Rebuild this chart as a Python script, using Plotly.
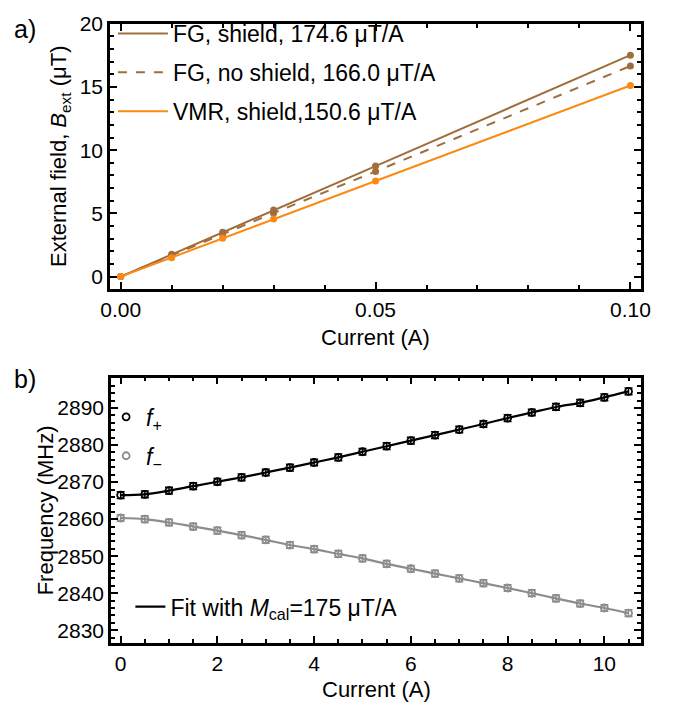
import plotly.graph_objects as go

# ---------------- data ----------------
# panel a
current_a = [0.0, 0.01, 0.02, 0.03, 0.05, 0.10]
fg_shield = [0.0, 1.76, 3.50, 5.26, 8.74, 17.52]
fg_noshield = [0.0, 1.68, 3.36, 5.03, 8.32, 16.66]
vmr_shield = [0.0, 1.50, 3.04, 4.55, 7.56, 15.12]
labels_a = ["FG, shield, 174.6 μT/A", "FG, no shield, 166.0 μT/A", "VMR, shield,150.6 μT/A"]

# panel b
current_b = [0.0, 0.5, 1.0, 1.5, 2.0, 2.5, 3.0, 3.5, 4.0, 4.5, 5.0,
             5.5, 6.0, 6.5, 7.0, 7.5, 8.0, 8.5, 9.0, 9.5, 10.0, 10.5]
f_plus = [2866.5, 2866.7, 2867.7, 2868.9, 2870.1, 2871.3, 2872.6, 2873.9, 2875.3, 2876.7, 2878.2,
          2879.7, 2881.2, 2882.7, 2884.2, 2885.7, 2887.3, 2888.8, 2890.3, 2891.4, 2892.9, 2894.5]
f_minus = [2860.3, 2860.0, 2859.1, 2858.0, 2856.9, 2855.7, 2854.4, 2853.0, 2851.9, 2850.6, 2849.4,
           2847.9, 2846.6, 2845.3, 2844.0, 2842.7, 2841.4, 2840.0, 2838.6, 2837.2, 2836.0, 2834.6]
err_plus = [0.9] * len(current_b)
err_minus = [0.9] * len(current_b)

BROWN = "rgb(160,110,60)"
ORANGE = "rgb(252,138,18)"
GRAY = "rgb(140,140,140)"
FONT = "Liberation Sans, Arial, sans-serif"
TICK_SIZE = 21
TITLE_SIZE = 22
LEG_SIZE = 23

fig = go.Figure()

# ---------------- panel a traces ----------------
for ys, name, color, dash, grp in [
    (fg_shield, labels_a[0], BROWN, "solid", "a1"),
    (fg_noshield, labels_a[1], BROWN, "dash", "a2"),
    (vmr_shield, labels_a[2], ORANGE, "solid", "a3"),
]:
    fig.add_trace(go.Scatter(
        x=current_a, y=ys, mode="lines", name=name,
        line=dict(color=color, width=2, dash=dash),
        legendgroup=grp, legend="legend", xaxis="x", yaxis="y"))
    fig.add_trace(go.Scatter(
        x=current_a, y=ys, mode="markers", showlegend=False,
        marker=dict(color=color, size=7),
        legendgroup=grp, xaxis="x", yaxis="y"))

# ---------------- panel b traces ----------------
fig.add_trace(go.Scatter(
    x=current_b, y=f_plus, mode="lines", line=dict(color="black", width=2.2, shape="spline"),
    name="Fit with <i>M</i><sub>cal</sub>=175 μT/A", legend="legend3",
    xaxis="x2", yaxis="y2"))
fig.add_trace(go.Scatter(
    x=current_b, y=f_minus, mode="lines", line=dict(color=GRAY, width=2.2, shape="spline"),
    showlegend=False, xaxis="x2", yaxis="y2"))
fig.add_trace(go.Scatter(
    x=current_b, y=f_plus, mode="markers", name="<i>f</i><sub>+</sub>",
    marker=dict(symbol="circle-open", color="black", size=7, line=dict(width=1.8)),
    error_y=dict(type="data", array=err_plus, color="black", thickness=1.5, width=4),
    legend="legend2", legendgroup="b1", xaxis="x2", yaxis="y2"))
fig.add_trace(go.Scatter(
    x=current_b, y=f_minus, mode="markers", name="<i>f</i><sub>−</sub>",
    marker=dict(symbol="circle-open", color=GRAY, size=7, line=dict(width=1.8)),
    error_y=dict(type="data", array=err_minus, color=GRAY, thickness=1.5, width=4),
    legend="legend2", legendgroup="b2", xaxis="x2", yaxis="y2"))

W, H = 688, 710
def px(x):
    return x / W
def py(y):
    return 1 - y / H

axis_common = dict(
    showline=True, mirror="allticks", linecolor="black", linewidth=2.5,
    ticks="inside", ticklen=7, tickwidth=1.5, tickcolor="black",
    showgrid=False, zeroline=False,
    tickfont=dict(family=FONT, size=TICK_SIZE, color="black"),
)
minor_common = dict(ticks="inside", ticklen=4, tickwidth=1.5, tickcolor="black", showgrid=False)

fig.update_layout(
    width=W, height=H,
    margin=dict(l=0, r=0, t=0, b=0),
    paper_bgcolor="white", plot_bgcolor="white",
    font=dict(family=FONT, size=20, color="black"),
    xaxis=dict(domain=[px(103), px(650)], range=[-0.0021, 0.1021], anchor="y",
               tickvals=[0, 0.05, 0.10], ticktext=["0.00", "0.05", "0.10"],
               minor=dict(dtick=0.01, **minor_common), **axis_common),
    yaxis=dict(domain=[py(282), py(12)], range=[-1.0, 20.0], anchor="x",
               tickvals=[0, 5, 10, 15, 20],
               minor=dict(dtick=1, **minor_common), **axis_common),
    xaxis2=dict(domain=[px(104), px(650)], range=[-0.2, 10.76], anchor="y2",
                tickvals=[0, 2, 4, 6, 8, 10],
                minor=dict(dtick=0.5, **minor_common), **axis_common),
    yaxis2=dict(domain=[py(642), py(372)], range=[2826.5, 2898.2], anchor="x2",
                tickvals=[2830, 2840, 2850, 2860, 2870, 2880, 2890],
                minor=dict(dtick=2, **minor_common), **axis_common),
    legend=dict(x=px(106), y=1.0, xanchor="left", yanchor="top",
                bgcolor="rgba(0,0,0,0)", traceorder="grouped", tracegroupgap=6,
                itemwidth=50, font=dict(family=FONT, size=LEG_SIZE, color="black")),
    legend2=dict(x=px(99), y=py(390), xanchor="left", yanchor="top",
                 bgcolor="rgba(0,0,0,0)", traceorder="grouped", tracegroupgap=6,
                 itemwidth=30, font=dict(family=FONT, size=LEG_SIZE, color="black")),
    legend3=dict(x=px(124), y=py(583), xanchor="left", yanchor="top",
                 bgcolor="rgba(0,0,0,0)", itemwidth=30,
                 font=dict(family=FONT, size=LEG_SIZE, color="black")),
    annotations=[
        dict(text="a)", x=px(2), y=py(17), xref="paper", yref="paper", xanchor="left", yanchor="middle",
             showarrow=False, font=dict(family=FONT, size=25)),
        dict(text="b)", x=px(2), y=py(373), xref="paper", yref="paper", xanchor="left", yanchor="middle",
             showarrow=False, font=dict(family=FONT, size=25)),
        dict(text="External field, <i>B</i><sub>ext</sub> (μT)", x=px(51), y=py(147),
             xref="paper", yref="paper", xanchor="center", yanchor="middle", textangle=-90,
             showarrow=False, font=dict(family=FONT, size=TITLE_SIZE)),
        dict(text="Frequency (MHz)", x=px(37), y=py(507),
             xref="paper", yref="paper", xanchor="center", yanchor="middle", textangle=-90,
             showarrow=False, font=dict(family=FONT, size=TITLE_SIZE)),
        dict(text="Current (A)", x=px(376), y=py(331), xref="paper", yref="paper",
             xanchor="center", yanchor="middle", showarrow=False, font=dict(family=FONT, size=TITLE_SIZE)),
        dict(text="Current (A)", x=px(377), y=py(689), xref="paper", yref="paper",
             xanchor="center", yanchor="middle", showarrow=False, font=dict(family=FONT, size=TITLE_SIZE)),
    ],
)

fig.write_html("out.html")
